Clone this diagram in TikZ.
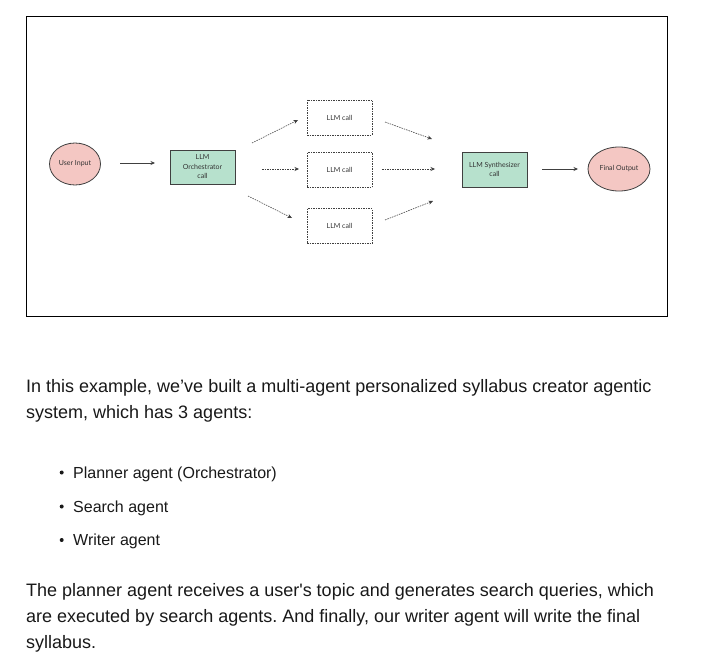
\documentclass[tikz,border=0pt]{standalone}
\usepackage{fontspec}
\setmainfont{Liberation Sans}
\newfontfamily\diagfont{Lato}
\usetikzlibrary{arrows.meta,shapes.geometric}
\definecolor{pinkfill}{HTML}{F4C7C3}
\definecolor{greenfill}{HTML}{B7E1CD}
\definecolor{edgegray}{HTML}{404040}
\definecolor{bordergray}{HTML}{404040}
\frenchspacing
\begin{document}
\begin{tikzpicture}[x=1pt,y=-1pt,
  ellnode/.style={ellipse,draw=bordergray,line width=0.8pt,fill=pinkfill,inner sep=0pt,font=\diagfont\fontsize{7}{9}\selectfont,text=black!80},
  greenbox/.style={rectangle,draw=bordergray,line width=0.8pt,fill=greenfill,inner sep=0pt,align=center,font=\diagfont\fontsize{7}{9.5}\selectfont,text=black!80},
  llmbox/.style={rectangle,draw=edgegray,dashed,dash pattern=on 1.5pt off 1pt,line width=0.7pt,inner sep=0pt,minimum width=65pt,minimum height=35pt,font=\diagfont\fontsize{7}{9}\selectfont,text=black!80},
  solidarr/.style={draw=edgegray,line width=0.7pt,-{Stealth[length=4.5pt,width=4pt]}},
  dasharr/.style={draw=edgegray,line width=0.6pt,dash pattern=on 1.5pt off 1pt,-{Stealth[length=4.5pt,width=4pt]}},
  para/.style={anchor=base west,inner sep=0pt,font=\fontsize{18}{22}\selectfont,text=black!90},
  bullettext/.style={anchor=base west,inner sep=0pt,font=\fontsize{16}{20}\selectfont,text=black!90}
]
\useasboundingbox (0,0) rectangle (714,671);
\fill[white] (0,0) rectangle (714,671);
\node[draw=black,line width=0.8pt,minimum width=641pt,minimum height=300pt,inner sep=0pt,anchor=north west] (frame) at (26,16) {};

\node[ellnode,minimum width=51pt,minimum height=42pt] (user) at (75,164) {User Input};
\node[greenbox,minimum width=65pt,minimum height=34pt] (orch) at (202.5,167) {LLM\\Orchestrator\\call};
\node[llmbox] (c1) at (339.5,117.5) {LLM call};
\node[llmbox] (c2) at (339.5,170) {LLM call};
\node[llmbox] (c3) at (339.5,226) {LLM call};
\node[greenbox,minimum width=65pt,minimum height=35pt] (synth) at (494.5,169.5) {LLM Synthesizer\\call};
\node[ellnode,minimum width=62pt,minimum height=44pt] (final) at (619,169) {Final Output};

\coordinate (a1s) at (120,163); \coordinate (a1e) at (155,163);
\draw[solidarr] (a1s) -- (a1e);
\coordinate (d1s) at (252,143); \coordinate (d1e) at (298,120);
\coordinate (d2s) at (262,169); \coordinate (d2e) at (299,169);
\coordinate (d3s) at (248,196); \coordinate (d3e) at (292,218);
\draw[dasharr] (d1s) -- (d1e);
\draw[dasharr] (d2s) -- (d2e);
\draw[dasharr] (d3s) -- (d3e);
\coordinate (e1s) at (385,122); \coordinate (e1e) at (432,139);
\coordinate (e2s) at (382,169); \coordinate (e2e) at (435,169);
\coordinate (e3s) at (385,220); \coordinate (e3e) at (433,201);
\draw[dasharr] (e1s) -- (e1e);
\draw[dasharr] (e2s) -- (e2e);
\draw[dasharr] (e3s) -- (e3e);
\coordinate (a2s) at (542,169); \coordinate (a2e) at (578,169);
\draw[solidarr] (a2s) -- (a2e);

\node[para] (p1) at (26,392.7) {In this example, we’ve built a multi-agent personalized syllabus creator agentic};
\node[para] (p2) at (26,418.5) {system, which has 3 agents:};
\node[bullettext] (b1) at (73,478.3) {Planner agent (Orchestrator)};
\node[bullettext] (b2) at (73,512.3) {Search agent};
\node[bullettext] (b3) at (73,545.8) {Writer agent};
\fill[black!90] (61.7,472.5) circle (2pt);
\fill[black!90] (61.7,506.5) circle (2pt);
\fill[black!90] (61.7,540) circle (2pt);
\node[para] (q1) at (26,596.7) {The planner agent receives a user\textquotesingle s topic and generates search queries, which};
\node[para] (q2) at (26,622.7) {are executed by search agents. And finally, our writer agent will write the final};
\node[para] (q3) at (26,648.5) {syllabus.};
\end{tikzpicture}
\end{document}
